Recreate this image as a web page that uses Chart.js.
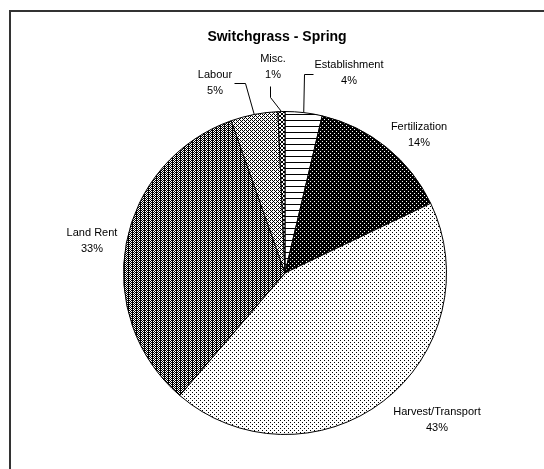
<!DOCTYPE html>
<html>
<head>
<meta charset="utf-8">
<script src="https://cdn.jsdelivr.net/npm/chart.js@4/dist/chart.umd.min.js"></script>
<style>
  html, body { margin: 0; padding: 0; background: #fff; }
  canvas { display: block; }
</style>
</head>
<body>
<canvas id="c" width="544" height="469"></canvas>
<script>
// ---- DATA ----
const titleText = "Switchgrass - Spring";
const categories = ["Establishment", "Fertilization", "Harvest/Transport", "Land Rent", "Labour", "Misc."];
const shares = [3.7, 14.2, 43.4, 33.3, 4.7, 0.7];   // percent of total cost (estimated)
const percentLabels = ["4%", "14%", "43%", "33%", "5%", "1%"];

// ---- STYLES (patterns / annotation placement) ----
const tiles = [
  ["X", ".", ".", ".", ".", "."],                 // Establishment: horizontal lines
  ["XXXX", "XX.X", "XXXX", ".XXX"],               // Fertilization: black with white dots
  ["X...", "....", "..X.", "...."],               // Harvest: sparse dots
  ["XX.X", "X.X."],                               // Land Rent: stripes + checker
  ["X.X.", ".X..", "X.X.", "...X"],               // Labour: light checker
  ["X..X", ".XX.", ".XX.", "X..X"]                // Misc: cross hatch
];
function makePattern(tile) {
  const h = tile.length, w = tile[0].length;
  const cv = document.createElement("canvas");
  cv.width = w; cv.height = h;
  const g = cv.getContext("2d");
  g.fillStyle = "#fff"; g.fillRect(0, 0, w, h);
  g.fillStyle = "#000";
  for (let y = 0; y < h; y++) for (let x = 0; x < w; x++) if (tile[y][x] === "X") g.fillRect(x, y, 1, 1);
  return g.createPattern(cv, "repeat");
}
const patterns = tiles.map(makePattern);

// label text anchors relative to pie centre (px), and leader elbows
const labelOffsets = [[64, -208], [134, -146], [152, 139], [-193, -40], [-70, -198], [-12, -214]];
const leaders = [
  [[null, -199], [28, -199]],
  null, null, null,
  [[-40, -190], [-51, -190]],
  [[-15, -176], [-15, -187]]
];

const framePlugin = {
  id: "frame",
  beforeDraw(chart) {
    const c = chart.ctx;
    c.save();
    c.fillStyle = "#fff";
    c.fillRect(0, 0, chart.width, chart.height);
    c.strokeStyle = "#333";
    c.lineWidth = 2;
    c.strokeRect(10, 11, 600, 600);
    c.restore();
  }
};

const labelPlugin = {
  id: "labels",
  afterDraw(chart) {
    const c = chart.ctx;
    const meta = chart.getDatasetMeta(0);
    const a0 = meta.data[0];
    const cx = a0.x, cy = a0.y;
    c.save();
    // title
    c.fillStyle = "#000";
    c.font = "bold 14px 'Liberation Sans', Arial, sans-serif";
    c.textAlign = "center";
    c.textBaseline = "middle";
    c.fillText(titleText, 277, 37);
    c.font = "11px 'Liberation Sans', Arial, sans-serif";
    meta.data.forEach((arc, i) => {
      const [ox, oy] = labelOffsets[i];
      const tx = cx + ox, ty = cy + oy;
      c.fillText(categories[i], tx, ty);
      c.fillText(percentLabels[i], tx, ty + 16);
      const ld = leaders[i];
      if (ld) {
        const mid = (arc.startAngle + arc.endAngle) / 2;
        const ex = cx + arc.outerRadius * Math.cos(mid);
        const ey = cy + arc.outerRadius * Math.sin(mid);
        c.beginPath();
        c.strokeStyle = "#000";
        c.lineWidth = 1;
        c.moveTo(ex, ey);
        ld.forEach(p => {
          const px = p[0] === null ? ex : cx + p[0];
          c.lineTo(Math.round(px) + 0.5, Math.round(cy + p[1]) + 0.5);
        });
        c.stroke();
      }
    });
    c.restore();
  }
};

new Chart(document.getElementById("c"), {
  type: "pie",
  data: {
    labels: categories,
    datasets: [{
      data: shares,
      backgroundColor: patterns,
      borderColor: "#000",
      borderWidth: 1
    }]
  },
  options: {
    responsive: false,
    animation: false,
    layout: { padding: { left: 123, right: 97, top: 111, bottom: 34 } },
    plugins: { legend: { display: false }, tooltip: { enabled: false }, title: { display: false } }
  },
  plugins: [framePlugin, labelPlugin]
});
</script>
</body>
</html>
